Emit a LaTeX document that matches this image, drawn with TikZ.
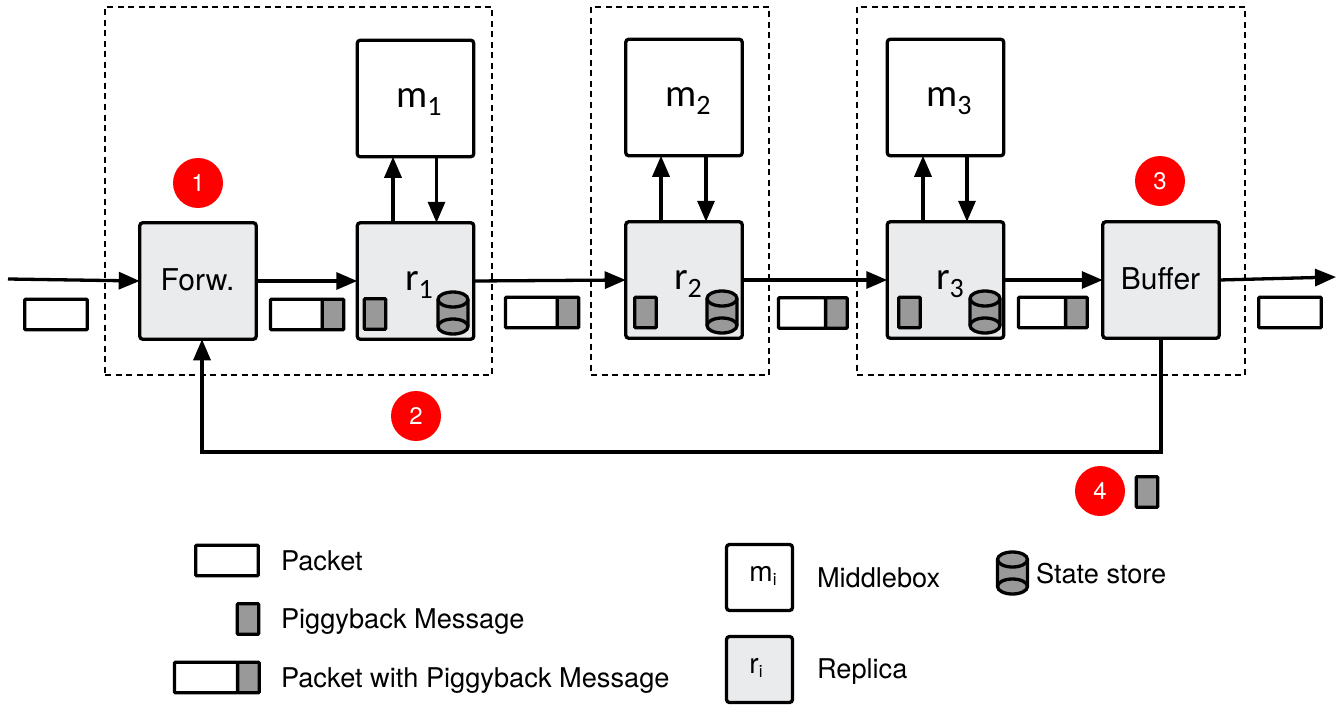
\documentclass[tikz,border=0pt]{standalone}
\usepackage{fontspec}
\setmainfont{TeX Gyre Heros}
\newfontfamily\carl{Carlito}
\usetikzlibrary{arrows.meta,calc}
\definecolor{boxgray}{HTML}{EAEBED}
\definecolor{msggray}{HTML}{999999}
\definecolor{dotred}{HTML}{FF0000}
\newcommand{\bigsub}[2]{{\carl\fontsize{39}{39}\selectfont #1\raisebox{-8pt}{\fontsize{28}{28}\selectfont #2}}}
\newcommand{\smallsub}[2]{{\fontsize{28}{28}\selectfont #1\raisebox{-4pt}{\fontsize{17}{17}\selectfont #2}}}
\tikzset{
  x=1pt,y=-1pt,
  every node/.style={inner sep=0pt,outer sep=0pt},
  midbox/.style={draw,line width=3.3pt,rounded corners=3pt,fill=white,minimum width=#1,minimum height=#1},
  repbox/.style={midbox=#1,fill=boxgray},
  region/.style={draw,dash pattern=on 6pt off 4.5pt,line width=1.5pt},
  flow/.style={line width=3.3pt,-{Triangle[length=21pt,width=17pt]}},
  pkt/.style={draw,line width=3.3pt,fill=white,rounded corners=1pt,minimum width=62.5pt,minimum height=30.5pt},
  msg/.style={draw,line width=3.3pt,fill=msggray,rounded corners=1pt,minimum width=21.5pt,minimum height=30.5pt},
  packbody/.style={draw,line width=3.3pt,fill=white,rounded corners=1pt,minimum height=30.5pt,minimum width=#1},
  badge/.style={circle,fill=dotred,text=white,minimum size=50pt,font=\fontsize{24}{24}\selectfont},
  lbl/.style={anchor=base west,font=\fontsize{27.2}{27.2}\selectfont},
  boxtext/.style={font=\fontsize{30}{30}\selectfont},
  pics/store/.style={code={
    \draw[line width=3.3pt,fill=msggray] (-15,-13.5) -- (-15,13.5) arc[x radius=15,y radius=-7.5,start angle=180,end angle=360] -- (15,-13.5) arc[x radius=15,y radius=7.5,start angle=0,end angle=-180] -- cycle;
    \draw[line width=3.3pt] (-15,-13.5) arc[x radius=15,y radius=-7.5,start angle=180,end angle=360];
    \draw[line width=3.3pt] (-15,13.5) arc[x radius=15,y radius=7.5,start angle=180,end angle=360];
  }}
}
\begin{document}
\begin{tikzpicture}
\useasboundingbox (0,0) rectangle (1340,706);
% dashed regions
\node[region,minimum width=387pt,minimum height=368pt] (z1) at (298.5,191) {};
\node[region,minimum width=178pt,minimum height=368pt] (z2) at (680,191) {};
\node[region,minimum width=388pt,minimum height=368pt] (z3) at (1051,191) {};
% boxes
\node[midbox=116.5pt] (m1) at (415.5,98.5) {};
\node[midbox=116.5pt] (m2) at (684,97.5) {};
\node[midbox=116.5pt] (m3) at (945.5,97.5) {};
\node[repbox=116.5pt,boxtext] (f) at (198,281) {};
\node[repbox=116.5pt] (r1) at (415.5,281) {};
\node[repbox=116.5pt] (r2) at (684,280) {};
\node[repbox=116.5pt] (r3) at (945.5,280) {};
\node[repbox=116.5pt,boxtext] (b) at (1161,280) {};
\node[boxtext] (ft) at (197.5,280) {Forw.};
\node[boxtext] (bt) at (1160.5,278.5) {Buffer};
\node (m1t) at (419,102) {\bigsub{m}{1}};
\node (m2t) at (688,101) {\bigsub{m}{2}};
\node (m3t) at (949,101) {\bigsub{m}{3}};
\node (r1t) at (419,285) {\bigsub{r}{1}};
\node (r2t) at (688,284) {\bigsub{r}{2}};
\node (r3t) at (950,284) {\bigsub{r}{3}};
% replica contents
\node[msg] (q1) at (375,314) {};
\node[msg] (q2) at (645.5,312.5) {};
\node[msg] (q3) at (909.5,312.5) {};
\pic at (453,313) {store};
\pic at (722,312) {store};
\pic at (985,312) {store};
% connectors
\coordinate (in) at (8,279);
\coordinate (out) at (1336,277);
\draw[flow] (in) -- (f.west);
\draw[flow] (f.east) -- (r1.west);
\draw[flow] (r1.east) -- (r2.west);
\draw[flow] (r2.east) -- (r3.west);
\draw[flow] (r3.east) -- (b.west);
\draw[flow] (b.east) -- (out);
\draw[flow] ($(r1.north)+(-22.5,0)$) -- ($(m1.south)+(-22.5,0)$);
\draw[flow] ($(m1.south)+(21,0)$) -- ($(r1.north)+(21,0)$);
\draw[flow] ($(r2.north)+(-23,0)$) -- ($(m2.south)+(-23,0)$);
\draw[flow] ($(m2.south)+(22,0)$) -- ($(r2.north)+(22,0)$);
\draw[flow] ($(r3.north)+(-22.5,0)$) -- ($(m3.south)+(-22.5,0)$);
\draw[flow] ($(m3.south)+(21.5,0)$) -- ($(r3.north)+(21.5,0)$);
\coordinate (fb) at (1161,452);
\draw[flow] (b.south) -- (fb) -- (fb -| 202,0) -- ($(f.south)+(4,0)$);
% packets on the wire
\node[pkt] (p0) at (56,314.5) {};
\node[pkt] (p9) at (1290,312.5) {};
\node[packbody=52pt] (a1) at (296.5,314.5) {};
\node[msg] (a2) at (333,314.5) {};
\node[packbody=52pt] (b1) at (531.5,312.5) {};
\node[msg] (b2) at (568,312.5) {};
\node[packbody=47pt] (c1) at (802,313) {};
\node[msg] (c2) at (836.5,313) {};
\node[packbody=47pt] (d1) at (1042,312.5) {};
\node[msg] (d2) at (1076.5,312.5) {};
% badges
\node[badge] (n1) at (198,183) {1};
\node[badge] (n2) at (416,416) {2};
\node[badge] (n3) at (1160,181) {3};
\node[badge] (n4) at (1100,491) {4};
\node[msg] (q4) at (1147,492) {};
% legend
\node[pkt] (lp) at (227,560.5) {};
\node[lbl] (lpt) at (281,570) {Packet};
\node[msg] (lm) at (248,619) {};
\node[lbl] (lmt) at (281,628) {Piggyback Message};
\node[packbody=63pt] (lc1) at (206,677.5) {};
\node[msg] (lc2) at (248.5,677.5) {};
\node[lbl] (lct) at (281,687) {Packet with Piggyback Message};
\node[midbox=66pt] (lmi) at (759.5,577.5) {};
\node (lmil) at (763,576) {\smallsub{m}{i}};
\node[lbl] (lmit) at (817,587) {Middlebox};
\node[repbox=66pt] (lri) at (759.5,669.5) {};
\node (lril) at (756,668) {\smallsub{r}{i}};
\node[lbl] (lrit) at (817,678) {Replica};
\pic at (1012.5,573) {store};
\node[lbl] (lst) at (1036,583) {State store};
\end{tikzpicture}
\end{document}
